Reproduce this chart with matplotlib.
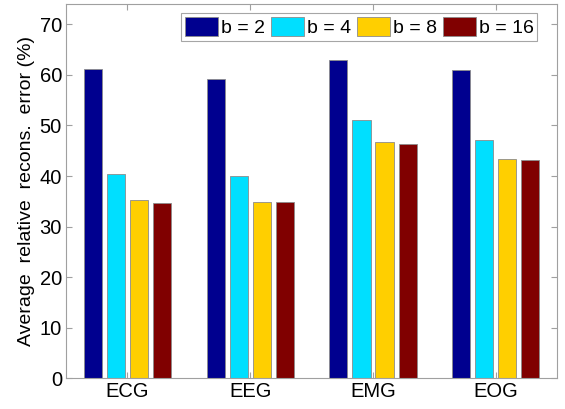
import numpy as np
import matplotlib.pyplot as plt

plt.rcParams['font.family'] = ['Liberation Sans', 'DejaVu Sans']

signals = ['ECG', 'EEG', 'EMG', 'EOG']
b2 = [61.1, 59.2, 63.0, 60.9]
b4 = [40.4, 40.1, 51.1, 47.2]
b8 = [35.3, 34.9, 46.8, 43.3]
b16 = [34.7, 34.9, 46.4, 43.1]

series = [b2, b4, b8, b16]
labels = ['b = 2', 'b = 4', 'b = 8', 'b = 16']
colors = ['#00008f', '#00dfff', '#ffcf00', '#800000']

fig = plt.figure(figsize=(5.65, 4.09), dpi=100)
ax = fig.add_axes([0.117, 0.075, 0.869, 0.915])

x = np.arange(1, len(signals) + 1)
step = 0.188
width = 0.148
for i, (vals, lab, col) in enumerate(zip(series, labels, colors)):
    ax.bar(x + (i - 1.5) * step, vals, width, color=col, label=lab,
           edgecolor='#8c8c8c', linewidth=0.6)

ax.set_xlim(0.5, 4.5)
ax.set_ylim(0, 74)
ax.set_yticks(range(0, 71, 10))
ax.set_xticks(x)
ax.set_xticklabels(signals)
ax.set_ylabel('Average  relative  recons.  error (%)', fontsize=14, labelpad=3)

for s in ax.spines.values():
    s.set_color('#a0a0a0')
    s.set_linewidth(0.8)
ax.tick_params(direction='in', length=4, color='#a0a0a0', labelsize=14.5,
               top=True, right=True, labelcolor='black', pad=3)

leg = ax.legend(ncol=4, loc='upper right', bbox_to_anchor=(0.96, 0.975),
                fontsize=14, frameon=True, fancybox=False,
                handlelength=1.7, handleheight=1.1, handletextpad=0.15,
                columnspacing=0.3, borderpad=0.2, borderaxespad=0.0)
leg.get_frame().set_edgecolor('#909090')
leg.get_frame().set_linewidth(0.8)

fig.savefig('out.png', dpi=100)
